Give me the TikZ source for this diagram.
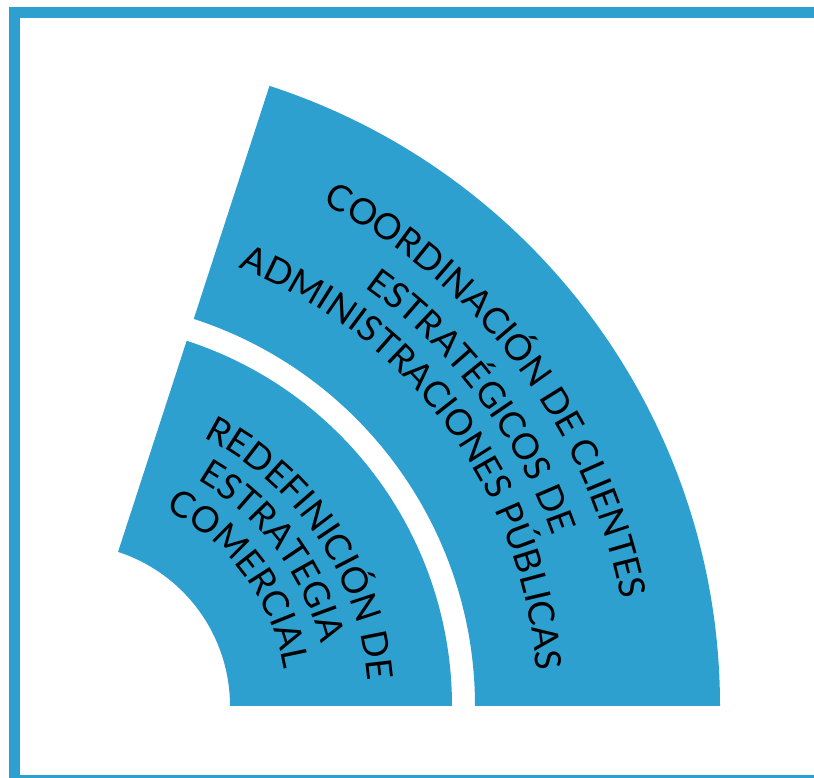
\documentclass[tikz,border=0pt]{standalone}
\usepackage{fontspec}
\newfontfamily\labelfont{Lato}
\usetikzlibrary{decorations.text}
\definecolor{panelblue}{RGB}{46,160,208}
\tikzset{
  band/.style={fill=panelblue},
  framebar/.style={fill=panelblue},
  arclabel/.style={decorate, decoration={text along path, text align=center,
    text={|\labelfont\fontsize{36}{40}\selectfont|#1}}}
}
\begin{document}
\begin{tikzpicture}[x=1pt,y=1pt]
\fill[white] (0,0) rectangle (814,778);
% frame: left, top and bottom bars
\path[framebar] (9,0) rectangle (20,771);
\path[framebar] (9,760) rectangle (814,771);
\path[framebar] (9,0) rectangle (814,3);
% common centre of the two bands
\coordinate (O) at (68,72);
% inner band
\path[band] ([shift={(O)}]0:162) -- ([shift={(O)}]0:384)
  arc[start angle=0, end angle=72, radius=384]
  -- ([shift={(O)}]72:162)
  arc[start angle=72, end angle=0, radius=162] -- cycle;
% outer band
\path[band] ([shift={(O)}]0:407) -- ([shift={(O)}]0:652)
  arc[start angle=0, end angle=72, radius=652]
  -- ([shift={(O)}]72:407)
  arc[start angle=72, end angle=0, radius=407] -- cycle;
% outer band labels
\path[arclabel={COORDINACIÓN DE CLIENTES}] ([shift={(O)}]74:563) arc[start angle=74, end angle=0, radius=563];
\path[arclabel={ESTRATÉGICOS DE}] ([shift={(O)}]74:513) arc[start angle=74, end angle=0, radius=513];
\path[arclabel={ADMINISTRACIONES PÚBLICAS}] ([shift={(O)}]73.5:470) arc[start angle=73.5, end angle=-0.5, radius=470];
% inner band labels
\path[arclabel={REDEFINICIÓN DE}] ([shift={(O)}]70.5:301) arc[start angle=70.5, end angle=-2.5, radius=301];
\path[arclabel={ESTRATEGIA}] ([shift={(O)}]74:260) arc[start angle=74, end angle=0, radius=260];
\path[arclabel={COMERCIAL}] ([shift={(O)}]73.5:219) arc[start angle=73.5, end angle=-0.5, radius=219];
\end{tikzpicture}
\end{document}
